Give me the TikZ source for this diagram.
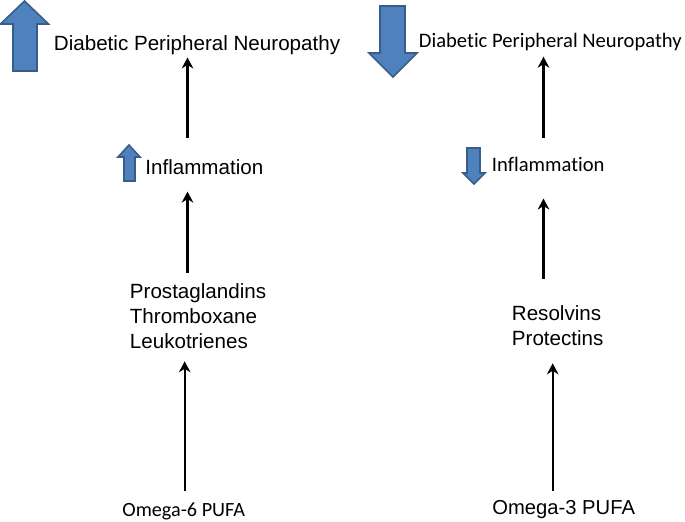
\documentclass[tikz,border=0pt]{standalone}
\usepackage{fontspec}
\setmainfont{Liberation Sans}
\newfontfamily\calibri[Ligatures=NoCommon]{Carlito}
\usepackage{xcolor}
\usepackage{tikz}
\usetikzlibrary{arrows.meta}

\definecolor{trendblue}{HTML}{4F81BD}
\definecolor{trendedge}{HTML}{385D8A}

\tikzset{
	txtarial/.style={inner sep=0pt, font=\fontsize{10.3}{12.5}\selectfont},
	txtcalibri/.style={inner sep=0pt, font=\calibri\fontsize{10.3}{12.5}\selectfont},
	trend/.style={fill=trendblue, draw=trendedge, line width=0.8pt, line join=miter},
	link/.style={->, line width=1.15pt}
}

\begin{document}
\begin{tikzpicture}[x=0.5pt, y=-0.5pt, >={Stealth[length=5.5pt,width=5.8pt]}]
	\useasboundingbox (0,0) rectangle (685,521);
	\coordinate (colsix) at (187.5,0);
	\coordinate (colthree) at (543.5,0);

	% omega-6 side
	\node[txtcalibri, anchor=base west, font=\calibri\fontsize{10.1}{12.5}\selectfont] (omegasix) at (122,516) {Omega-6 PUFA};
	\node[txtarial, anchor=north west, align=left] (prosta) at (129.5,283) {Prostaglandins\\Thromboxane\\Leukotrienes};
	\node[txtarial, anchor=base west] (inflsix) at (145,174) {Inflammation};
	\node[txtarial, anchor=base west] (dpnsix) at (53.5,50) {Diabetic Peripheral Neuropathy};

	% omega-3 side
	\node[txtarial, anchor=base west, font=\fontsize{10.1}{12.5}\selectfont] (omegathree) at (492,514) {Omega-3 PUFA};
	\node[txtarial, anchor=north west, align=left] (resolv) at (511.5,305) {Resolvins\\Protectins};
	\node[txtcalibri, anchor=base west] (inflthree) at (491.5,171) {Inflammation};
	\node[txtcalibri, anchor=base west] (dpnthree) at (418.5,47) {Diabetic Peripheral Neuropathy};

	\path[link] ([xshift=0.5pt]omegasix.north) edge[shorten <=5.3pt, shorten >=6.2pt] ([xshift=0.5pt]prosta.south -| omegasix.north);
	\path[link] (prosta.north -| colsix) edge[shorten <=5pt, shorten >=8.5pt] (inflsix.south -| colsix);
	\path[link] (inflsix.north -| colsix) edge[shorten <=10.5pt, shorten >=1.4pt] (dpnsix.south -| colsix);

	\path[link] ([xshift=-5.5pt]omegathree.north) edge[shorten <=4.5pt, shorten >=8.7pt] ([xshift=-5.5pt]resolv.south -| omegathree.north);
	\path[link] (resolv.north -| colthree) edge[shorten <=13pt, shorten >=13.5pt] (inflthree.south -| colthree);
	\path[link] (inflthree.north -| colthree) edge[shorten <=9.3pt, shorten >=3pt] (dpnthree.south -| colthree);

	% up and down trend arrows
	\draw[trend] (13,71) -- (13,24) -- (0.5,24) -- (24.5,1) -- (48.5,24) -- (37,24) -- (37,71) -- cycle;
	\draw[trend] (124,181) -- (124,157) -- (118,157) -- (129,145) -- (140,157) -- (135,157) -- (135,181) -- cycle;
	\draw[trend] (380,6) -- (405,6) -- (405,53) -- (417,53) -- (393,77) -- (369,53) -- (380,53) -- cycle;
	\draw[trend] (467,148) -- (480,148) -- (480,173) -- (485,173) -- (474,184) -- (463,173) -- (467,173) -- cycle;
\end{tikzpicture}
\end{document}
